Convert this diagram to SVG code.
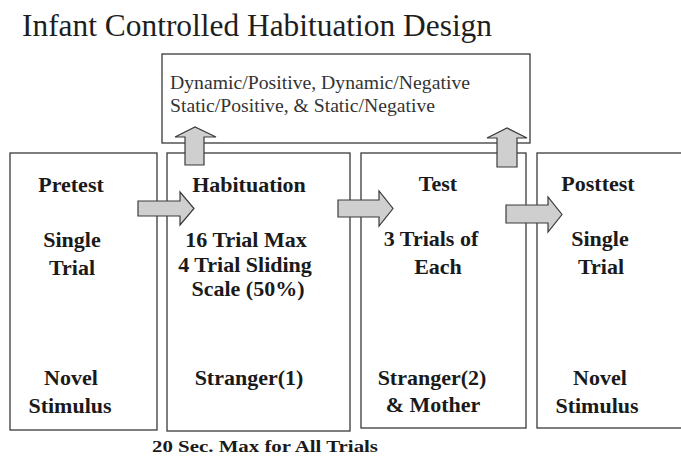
<svg xmlns="http://www.w3.org/2000/svg" width="681" height="458" viewBox="0 0 681 458">
<style>
.box{fill:#fff;stroke:#3a3a3a;stroke-width:1.3}
.arr{fill:#cfcfcf;stroke:#3a3a3a;stroke-width:1.2;stroke-linejoin:miter}
.b{font-family:"Liberation Serif","Times New Roman",serif;font-weight:bold;font-size:22px;fill:#1a1a1a;text-anchor:middle}
.r{font-family:"Liberation Serif","Times New Roman",serif;font-size:19.5px;fill:#333}
.title{font-family:"Liberation Serif","Times New Roman",serif;font-size:32px;fill:#1e1e1e}
</style>
<rect width="681" height="458" fill="#fff"/>
<text class="title" x="22" y="36" textLength="470" lengthAdjust="spacingAndGlyphs">Infant Controlled Habituation Design</text>

<g id="conditions">
<rect class="box" x="162" y="54" width="368" height="89"/>
<text class="r" x="170" y="89" textLength="300" lengthAdjust="spacingAndGlyphs">Dynamic/Positive, Dynamic/Negative</text>
<text class="r" x="170" y="112" textLength="265" lengthAdjust="spacingAndGlyphs">Static/Positive, &amp; Static/Negative</text>
</g>

<g id="pretest">
<rect class="box" x="10" y="153" width="147" height="277"/>
<text class="b" x="71" y="192">Pretest</text>
<text class="b" x="72" y="247">Single</text>
<text class="b" x="72" y="275">Trial</text>
<text class="b" x="71" y="385">Novel</text>
<text class="b" x="70" y="413">Stimulus</text>
</g>

<g id="habituation">
<rect class="box" x="167" y="153" width="183" height="278"/>
<text class="b" x="249" y="192">Habituation</text>
<text class="b" x="246" y="247">16 Trial Max</text>
<text class="b" x="245" y="272">4 Trial Sliding</text>
<text class="b" x="248" y="296">Scale (50%)</text>
<text class="b" x="249" y="385">Stranger(1)</text>
</g>

<g id="test">
<rect class="box" x="361" y="153" width="165" height="275"/>
<text class="b" x="438" y="191">Test</text>
<text class="b" x="431" y="246">3 Trials of</text>
<text class="b" x="438" y="274">Each</text>
<text class="b" x="432" y="385">Stranger(2)</text>
<text class="b" x="433" y="412">&amp; Mother</text>
</g>

<g id="posttest">
<rect class="box" x="537" y="153" width="160" height="275"/>
<text class="b" x="598" y="191">Posttest</text>
<text class="b" x="600" y="246">Single</text>
<text class="b" x="601" y="274">Trial</text>
<text class="b" x="600" y="385">Novel</text>
<text class="b" x="597" y="413">Stimulus</text>
</g>

<g id="connectors">
<path class="arr" d="M138,201 H180 V192 L194,208.5 L180,225 V216 H138 Z"/>
<path class="arr" d="M338,200 H379 V191 L393,208.5 L379,226 V217 H338 Z"/>
<path class="arr" d="M506,205 H548 V197 L562,214.5 L548,232 V223 H506 Z"/>
<path class="arr" d="M185,165 V137 H175 L195,127 L216,137 H204 V165 Z"/>
<path class="arr" d="M497,167 V138 H487 L507,128 L527,138 H517 V167 Z"/>
</g>

<text x="152" y="452" font-family="Liberation Serif, Times New Roman, serif" font-weight="bold" font-size="16" fill="#1a1a1a" textLength="226" lengthAdjust="spacingAndGlyphs">20 Sec. Max for All Trials</text>
</svg>
